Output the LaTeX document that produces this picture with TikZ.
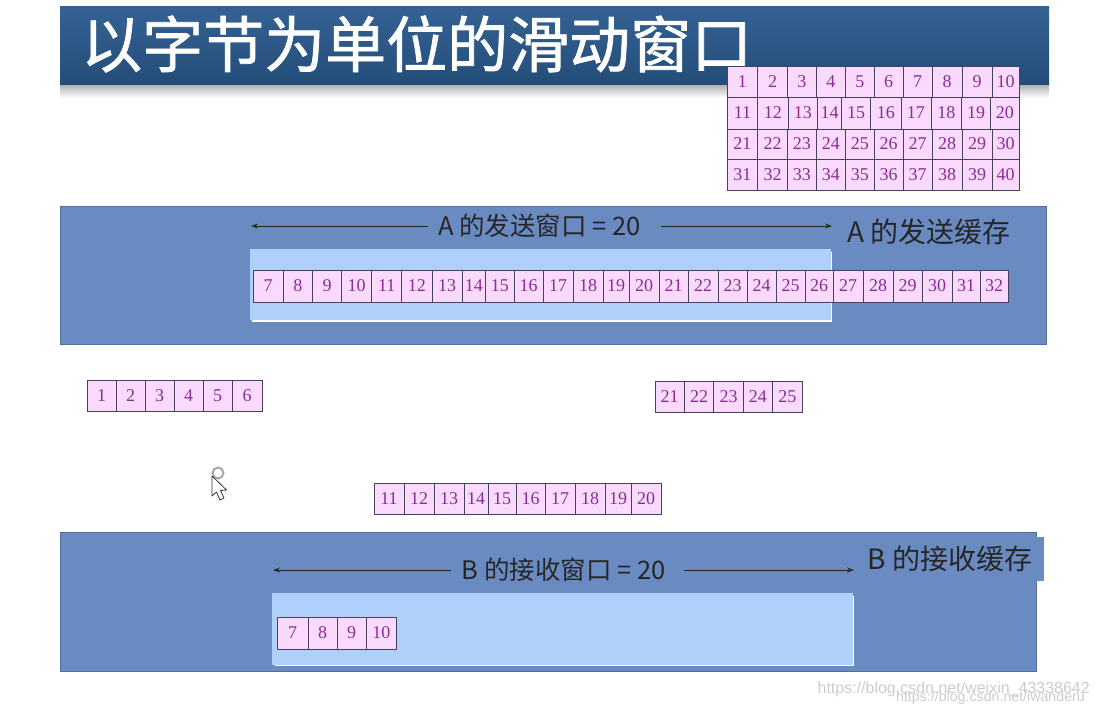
\documentclass[tikz,border=0pt]{standalone}
\usepackage{fontspec}
\setmainfont{Liberation Serif}
\newfontfamily\cjk{Noto Sans CJK SC}
\newfontfamily\cjktitle[FakeBold=1.2]{Noto Sans CJK SC}
\newfontfamily\latinsans{Liberation Sans}
\usepackage{xcolor}
\usetikzlibrary{arrows.meta, positioning}
\definecolor{barblue}{HTML}{2A5A8E}
\definecolor{panelblue}{HTML}{6A8BC1}
\definecolor{panelline}{HTML}{52709F}
\definecolor{winblue}{HTML}{AED0F9}
\definecolor{cellpink}{HTML}{F9DAFC}
\definecolor{cellline}{HTML}{4A3F5C}
\definecolor{cellnum}{HTML}{8A2C96}
\tikzset{
    cell/.style={rectangle, draw=cellline, fill=cellpink, text=cellnum, line width=0.7pt, inner sep=0pt, outer sep=0pt, font=\fontsize{18}{18}\selectfont},
    panel/.style={fill=panelblue, draw=panelline, line width=0.8pt},
    window/.style={fill=winblue},
    winlabel/.style={inner sep=0pt, font=\cjk\fontsize{25.5}{27}\selectfont, text=black!85},
    buflabel/.style={inner sep=0pt, font=\cjk\fontsize{28}{30}\selectfont, text=black!85},
    arrow/.style={line width=1pt, black!85, -{Stealth[length=7pt,width=5pt]}},
    sitemark/.style={inner sep=0pt, text=black!20, font=\latinsans\fontsize{16}{16}\selectfont}
}
% #1 prefix, #2 left edge, #3 middle, #4 height, #5 number/width list
\newcommand{\cellrow}[5]{
    \coordinate (#1s) at (#2,#3);
    \foreach \num/\cw [remember=\num as \prevnum (initially s)] in {#5} {
        \node (#1\num) [cell, minimum width=\cw pt, minimum height=#4 pt, right=0pt of #1\prevnum] {\num};
    }
}
\begin{document}
\begin{tikzpicture}[x=1pt, y=-1pt]
    \useasboundingbox (0,0) rectangle (1099,707);

    % title bar
    \shade [top color=barblue!95!white, bottom color=barblue!85!black] (60,6) rectangle (1049,85);
    \shade [top color=black!30, bottom color=white] (60,85) rectangle (1049,98);
    \node (title) [anchor=west, inner sep=0pt, text=white, font=\cjktitle\fontsize{61}{64}\selectfont] at (81,44) {以字节为单位的滑动窗口};

    % A side
    \fill [panel] (60,206) rectangle (1046,344);
    \fill [white] (252,252) rectangle (832,322);
    \fill [window] (250,249) rectangle (830.5,320);
    \node (awin) [winlabel] at (539.5,226) {A 的发送窗口 = 20};
    \coordinate (awinl) at (251,226);
    \coordinate (awinr) at (832,226);
    \draw [arrow] ([xshift=-10pt]awin.west) -- (awinl);
    \draw [arrow] ([xshift=20pt]awin.east) -- (awinr);
    \node (abuf) [buflabel] at (929,232) {A 的发送缓存};
    \cellrow{a}{253}{286}{32}{7/30,8/29.7,9/29,10/30,11/30,12/30.3,13/30,14/23.7,15/28.3,16/29,17/30,18/30,19/26,20/30,21/29,22/30,23/29,24/29,25/29,26/28,27/30,28/30,29/29,30/30,31/28,32/28}

    % B side
    \fill [panel] (60,532) rectangle (1036,671);
    \fill [panelblue] (1036,537) rectangle (1044,581);
    \fill [white] (275,596) rectangle (854,666);
    \fill [window] (272,593) rectangle (852.5,664.5);
    \node (bwin) [winlabel] at (563.5,570) {B 的接收窗口 = 20};
    \coordinate (bwinl) at (273,570);
    \coordinate (bwinr) at (854,570);
    \draw [arrow] ([xshift=-10pt]bwin.west) -- (bwinl);
    \draw [arrow] ([xshift=18pt]bwin.east) -- (bwinr);
    \node (bbuf) [buflabel] at (950,559) {B 的接收缓存};
    \cellrow{b}{277.3}{633}{32}{7/30.7,8/29,9/29,10/30.7}

    % all bytes
    \cellrow{r}{727.3}{82}{30.5}{1/30.3,2/30,3/28.3,4/29.7,5/28.3,6/29.3,7/28.7,8/30.3,9/29.7,10/27.3}
    \cellrow{r}{727.3}{113}{32}{11/30.3,12/30.7,13/29.3,14/24,15/29,16/30.3,17/30,18/30.7,19/29,20/28.3}
    \cellrow{r}{727.3}{144}{30}{21/30.3,22/30,23/28.3,24/29.7,25/28.3,26/29.3,27/28.7,28/30.3,29/29.7,30/27.3}
    \cellrow{r}{727.3}{175}{31.5}{31/30.3,32/30,33/28.3,34/29.7,35/28.3,36/29.3,37/28.7,38/30.3,39/29.7,40/27.3}

    % bytes on the way
    \cellrow{m}{87}{395.5}{31}{1/29,2/29,3/29,4/29,5/29,6/30}
    \cellrow{n}{655}{396.5}{31}{21/29.4,22/29.4,23/29.4,24/29.4,25/29.4}
    \cellrow{p}{374}{498.5}{31}{11/30,12/30,13/30,14/24,15/28,16/29,17/30,18/30,19/26,20/30}

    % pointer
    \draw [black!35, line width=2pt] (218,473) circle (5.5);
    \draw [fill=white, draw=black!80, line width=0.8pt, line join=round] (212,476) -- (212,496) -- (216.5,492) -- (220,500) -- (224,498) -- (220.5,490.5) -- (226.5,490) -- cycle;

    % site marks
    \node (markone) [sitemark, anchor=east] at (1090,689) {https://blog.csdn.net/weixin\_43338642};
    \node (marktwo) [sitemark, anchor=east, font=\latinsans\fontsize{14.2}{15}\selectfont] at (1085,698) {https://blog.csdn.net/iwanderu};
\end{tikzpicture}
\end{document}
